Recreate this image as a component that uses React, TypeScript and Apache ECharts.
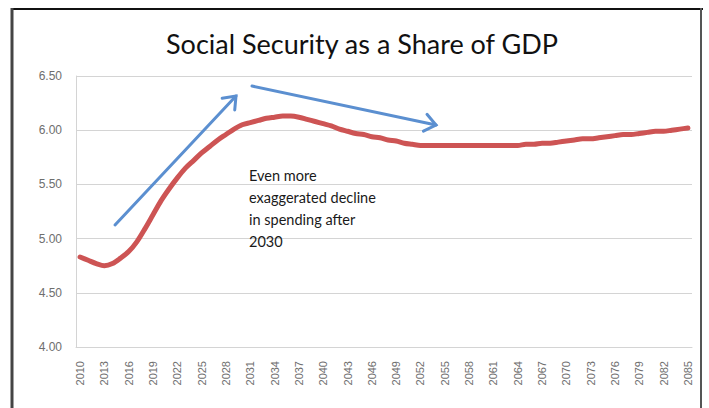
import React, { useEffect, useRef } from "react";
import * as echarts from "echarts";

const years: string[] = [];
for (let y = 2010; y <= 2085; y++) years.push(String(y));

const shareOfGdp: number[] = [
  4.83, 4.8, 4.77, 4.75, 4.77, 4.82, 4.88, 4.97, 5.09, 5.22, // 2010-2019
  5.35, 5.46, 5.56, 5.65, 5.72, 5.79, 5.85, 5.91, 5.96, 6.01, // 2020-2029
  6.05, 6.07, 6.09, 6.11, 6.12, 6.13, 6.13, 6.12, 6.1, 6.08, // 2030-2039
  6.06, 6.04, 6.01, 5.99, 5.97, 5.96, 5.94, 5.93, 5.91, 5.9, // 2040-2049
  5.88, 5.87, 5.86, 5.86, 5.86, 5.86, 5.86, 5.86, 5.86, 5.86, // 2050-2059
  5.86, 5.86, 5.86, 5.86, 5.86, 5.87, 5.87, 5.88, 5.88, 5.89, // 2060-2069
  5.9, 5.91, 5.92, 5.92, 5.93, 5.94, 5.95, 5.96, 5.96, 5.97, // 2070-2079
  5.98, 5.99, 5.99, 6.0, 6.01, 6.02, // 2080-2085
];

const titleText = "Social Security as a Share of GDP";
const noteLines = ["Even more", "exaggerated decline", "in spending after", "2030"];

const BLUE = "#5b8fd0";

function arrow(x1: number, y1: number, x2: number, y2: number) {
  const ang = Math.atan2(y2 - y1, x2 - x1);
  const len = 14;
  const spread = (38 * Math.PI) / 180;
  const a1 = ang + Math.PI - spread;
  const a2 = ang + Math.PI + spread;
  return [
    {
      type: "line",
      shape: { x1, y1, x2, y2 },
      style: { stroke: BLUE, lineWidth: 3, lineCap: "round" },
      z: 10,
    },
    {
      type: "polyline",
      shape: {
        points: [
          [x2 + len * Math.cos(a1), y2 + len * Math.sin(a1)],
          [x2, y2],
          [x2 + len * Math.cos(a2), y2 + len * Math.sin(a2)],
        ],
      },
      style: { stroke: BLUE, lineWidth: 3, fill: "none", lineJoin: "miter", lineCap: "round" },
      z: 10,
    },
  ];
}

export default function App() {
  const ref = useRef<HTMLDivElement>(null);
  useEffect(() => {
    if (!ref.current) return;
    const chart = echarts.init(ref.current, null, { renderer: "svg" });
    chart.setOption({
      animation: false,
      backgroundColor: "#ffffff",
      title: {
        text: titleText,
        left: 161,
        top: 25,
        textStyle: {
          fontFamily: "Lato",
          fontSize: 27,
          fontWeight: "normal",
          color: "#111111",
        },
      },
      grid: { left: 76, right: 17, top: 76, bottom: 61 },
      xAxis: {
        type: "category",
        data: years,
        boundaryGap: true,
        axisLine: { show: true, lineStyle: { color: "#d4d4d4", width: 1 } },
        axisTick: { show: false },
        axisLabel: {
          interval: 2,
          rotate: 90,
          margin: 14,
          color: "#6e6e6e",
          fontFamily: "Liberation Sans",
          fontSize: 11,
        },
        splitLine: { show: false },
      },
      yAxis: {
        type: "value",
        min: 4,
        max: 6.5,
        interval: 0.5,
        axisLine: { show: true, lineStyle: { color: "#d4d4d4", width: 1 } },
        axisTick: { show: false },
        axisLabel: {
          margin: 14,
          color: "#6e6e6e",
          fontFamily: "Liberation Sans",
          fontSize: 12,
          formatter: (v: number) => v.toFixed(2),
        },
        splitLine: { show: true, lineStyle: { color: "#d4d4d4", width: 1 } },
      },
      series: [
        {
          type: "line",
          data: shareOfGdp,
          showSymbol: false,
          smooth: 0.3,
          lineStyle: { color: "#cd5454", width: 5, cap: "round", join: "round" },
          z: 5,
        },
      ],
      graphic: [
        // frame
        { type: "line", shape: { x1: 11, y1: 9, x2: 703, y2: 9 }, style: { stroke: "#111", lineWidth: 2 } },
        { type: "line", shape: { x1: 12, y1: 8, x2: 12, y2: 408 }, style: { stroke: "#444", lineWidth: 3 } },
        { type: "line", shape: { x1: 701, y1: 8, x2: 701, y2: 408 }, style: { stroke: "#555", lineWidth: 2 } },
        ...arrow(115, 225, 236, 96),
        ...arrow(252, 86, 436, 125),
        ...noteLines.map((t, i) => ({
          type: "text",
          left: 249,
          top: 168 + i * 22,
          style: {
            text: t,
            fill: "#1a1a1a",
            font: "14.5px Lato",
          },
          z: 10,
        })),
      ],
    });
    return () => chart.dispose();
  }, []);
  return (
    <div
      ref={ref}
      style={{ position: "fixed", left: 0, top: 0, width: 709, height: 408 }}
    />
  );
}
